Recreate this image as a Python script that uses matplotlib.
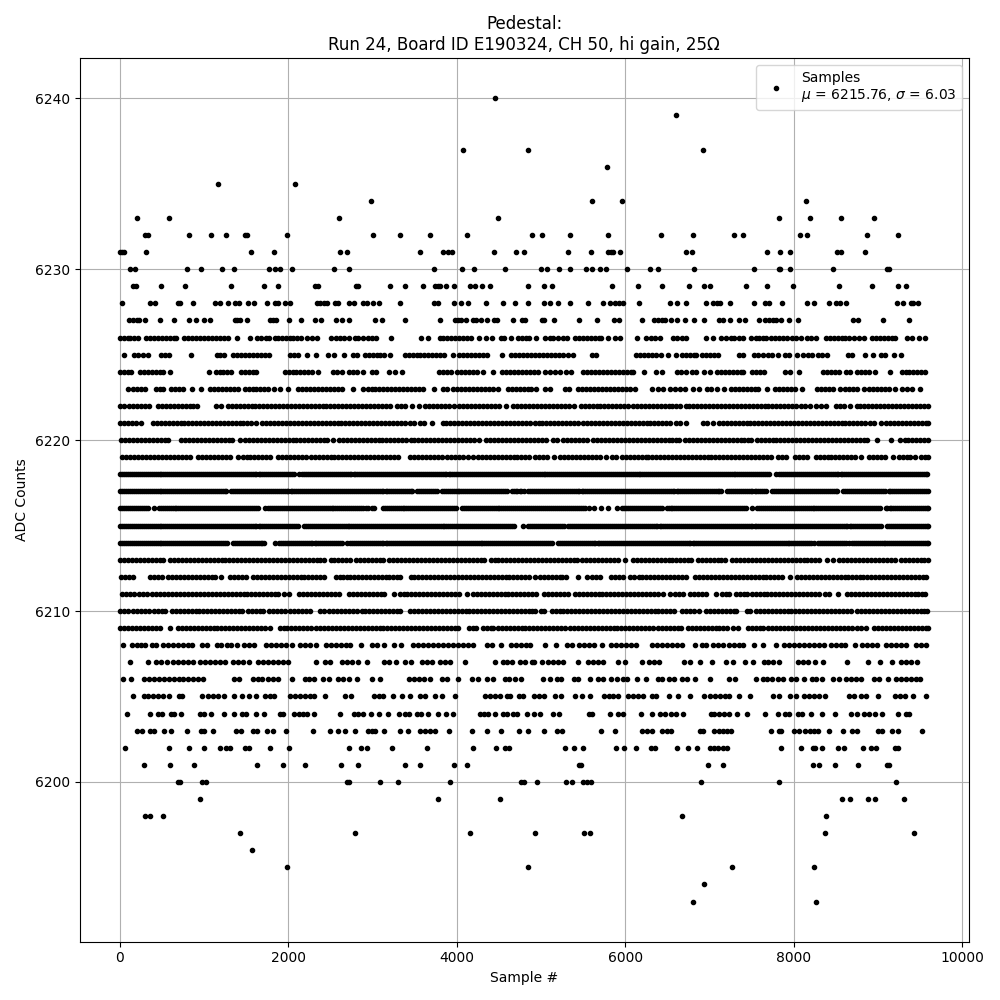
import matplotlib
matplotlib.use("Agg")
import matplotlib.pyplot as plt

# sample numbers, one list per ADC level
s_6240 = [4450]
s_6239 = [6600]
s_6237 = [4070, 4850, 6919]
s_6236 = [5783]
s_6235 = [1163, 2077]
s_6234 = [2979, 5605, 5960, 8150]
s_6233 = [202, 581, 2599, 4486, 7830, 8197, 8564, 8955]
s_6232 = [300, 332, 819, 1080, 1258, 1480, 1511, 1982, 3003, 3323, 3679, 4118, 4895, 5014, 5345, 5795, 6422, 6801, 7286, 7393, 8079, 8162, 8872, 9239]
s_6231 = [0, 20, 47, 305, 1555, 1828, 2611, 2694, 3560, 3833, 3897, 3944, 4439, 4700, 4795, 5321, 5594, 5795, 5826, 5858, 5937, 6718, 6789, 7688, 7842, 7961, 8517, 8556, 8848]
s_6230 = [119, 178, 795, 961, 1210, 1353, 1768, 1840, 1899, 2041, 2540, 2718, 3727, 4063, 4201, 4569, 5002, 5073, 5215, 5345, 5534, 5605, 5700, 5771, 6020, 6292, 6387, 6813, 7523, 7819, 7842, 7961, 8470, 9109, 9132]
s_6229 = [154, 190, 487, 771, 1317, 1709, 1875, 2314, 2350, 2801, 2829, 3204, 3382, 3596, 3738, 3774, 3798, 3869, 3964, 4154, 4213, 4296, 4391, 4842, 5037, 5132, 5842, 6150, 6434, 6753, 6931, 7002, 7428, 7677, 7996, 8541, 8931, 9239, 9333]
s_6228 = [24, 356, 415, 688, 712, 866, 1127, 1187, 1282, 1365, 1412, 1519, 1590, 1745, 1840, 1875, 1958, 2018, 2338, 2374, 2421, 2457, 2552, 2587, 2718, 2777, 2884, 2931, 3003, 3074, 3323, 3727, 3774, 3964, 4047, 4130, 4344, 4546, 4688, 4842, 5037, 5105, 5204, 5345, 5558, 5736, 5819, 5878, 5925, 5972, 6162, 6529, 6611, 6718, 6955, 7037, 7085, 7120, 7239, 7523, 7653, 7708, 7866, 8162, 8245, 8422, 8505, 8552, 8623, 9227, 9298, 9393, 9416, 9475]
s_6227 = [107, 154, 202, 225, 297, 475, 641, 819, 902, 997, 1068, 1365, 1389, 1424, 1507, 1780, 1816, 1851, 2006, 2148, 2314, 2385, 2563, 2635, 2718, 3026, 3109, 3382, 3798, 3976, 4011, 4047, 4106, 4189, 4225, 4284, 4355, 4439, 4474, 4664, 4771, 4807, 5014, 5037, 5156, 5452, 5665, 5866, 5925, 6197, 6339, 6387, 6434, 6469, 6540, 6611, 6706, 6813, 6931, 7108, 7156, 7239, 7345, 7416, 7582, 7653, 7712, 7759, 7795, 7854, 7949, 8055, 8706, 8765, 9061, 9369]
s_6226 = [0, 45, 95, 123, 170, 214, 305, 352, 400, 447, 494, 542, 589, 636, 669, 756, 803, 850, 906, 953, 1000, 1047, 1095, 1142, 1189, 1236, 1282, 1389, 1543, 1626, 1673, 1737, 1768, 1836, 1875, 1922, 1969, 2016, 2053, 2101, 2152, 2219, 2278, 2338, 2508, 2560, 2607, 2666, 2725, 2785, 2825, 2884, 2943, 2990, 3042, 3216, 3572, 3655, 3794, 3841, 3888, 3935, 3982, 4029, 4076, 4123, 4170, 4268, 4348, 4415, 4526, 4565, 4644, 4723, 4770, 4817, 4862, 4939, 5045, 5105, 5144, 5203, 5262, 5302, 5400, 5447, 5494, 5541, 5588, 5635, 5682, 5716, 5795, 5874, 5933, 6138, 6249, 6300, 6355, 6406, 6564, 6618, 6670, 6722, 6959, 7037, 7136, 7195, 7254, 7294, 7345, 7393, 7491, 7550, 7590, 7630, 7669, 7728, 7775, 7822, 7869, 7916, 7984, 8024, 8083, 8162, 8210, 8260, 8379, 8426, 8473, 8520, 8567, 8614, 8661, 8714, 8773, 8832, 8931, 8978, 9025, 9072, 9119, 9166, 9207, 9345, 9400, 9483, 9562]
s_6225 = [47, 162, 210, 273, 332, 490, 540, 585, 843, 1150, 1187, 1234, 1345, 1392, 1439, 1486, 1533, 1580, 1627, 1674, 1721, 1775, 2015, 2062, 2109, 2219, 2330, 2470, 2547, 2660, 2768, 2820, 2905, 2952, 2999, 3046, 3093, 3140, 3210, 3380, 3427, 3474, 3521, 3568, 3615, 3662, 3709, 3756, 3803, 3850, 3950, 4030, 4077, 4124, 4171, 4218, 4265, 4312, 4359, 4540, 4645, 4692, 4739, 4786, 4833, 4880, 4927, 4974, 5021, 5068, 5115, 5162, 5209, 5255, 5320, 5375, 5600, 5655, 6130, 6177, 6224, 6271, 6318, 6365, 6419, 6510, 6605, 6670, 6717, 6764, 6811, 6840, 6911, 6958, 7005, 7052, 7100, 7350, 7397, 7525, 7570, 7630, 7690, 7745, 7809, 7895, 7945, 8040, 8110, 8166, 8215, 8285, 8340, 8395, 8640, 8690, 8840, 8935, 9030, 9083, 9185, 9270]
s_6224 = [0, 47, 94, 130, 235, 282, 329, 376, 423, 470, 510, 600, 1053, 1135, 1182, 1229, 1276, 1322, 1440, 1487, 1534, 1581, 1620, 1955, 2002, 2049, 2096, 2143, 2190, 2237, 2284, 2350, 2525, 2572, 2640, 2720, 2767, 2814, 2885, 2995, 3042, 3190, 3265, 3350, 3790, 3837, 3884, 3930, 4000, 4047, 4094, 4141, 4188, 4235, 4310, 4430, 4536, 4583, 4630, 4677, 4724, 4771, 4818, 4865, 4912, 4959, 5045, 5105, 5170, 5230, 5300, 5350, 5500, 5547, 5594, 5641, 5688, 5735, 5782, 5829, 5876, 5923, 5970, 6017, 6064, 6090, 6226, 6360, 6440, 6610, 6660, 6725, 6790, 6840, 6940, 7000, 7090, 7137, 7184, 7231, 7278, 7325, 7372, 7400, 7500, 7547, 7600, 7650, 7900, 7950, 8060, 8350, 8397, 8444, 8491, 8538, 8620, 8665, 8753, 8800, 8847, 8894, 8970, 9140, 9280, 9327, 9374, 9421, 9468, 9515, 9562]
s_6223 = [100, 150, 197, 244, 300, 430, 480, 515, 605, 652, 699, 746, 850, 966, 1070, 1117, 1164, 1211, 1258, 1305, 1352, 1399, 1480, 1527, 1574, 1621, 1668, 1715, 1762, 1830, 1900, 1990, 2114, 2161, 2208, 2255, 2302, 2349, 2396, 2443, 2490, 2537, 2584, 2635, 2772, 2880, 2940, 2987, 3034, 3081, 3128, 3175, 3222, 3269, 3316, 3363, 3410, 3457, 3504, 3551, 3600, 3725, 3835, 3880, 3955, 4002, 4049, 4096, 4143, 4190, 4237, 4284, 4331, 4378, 4425, 4490, 4605, 4652, 4699, 4746, 4793, 4840, 4885, 4940, 5045, 5100, 5285, 5330, 5440, 5487, 5534, 5581, 5628, 5675, 5722, 5769, 5816, 5863, 5910, 5957, 6004, 6051, 6120, 6316, 6390, 6445, 6530, 6590, 6650, 6710, 6800, 6870, 6970, 7020, 7090, 7170, 7255, 7300, 7347, 7394, 7441, 7488, 7535, 7580, 7680, 7780, 7827, 7874, 7921, 7968, 8015, 8100, 8280, 8327, 8374, 8421, 8468, 8550, 8610, 8657, 8704, 8751, 8830, 8890, 8935, 8990, 9040, 9085, 9130, 9205, 9290, 9340, 9400, 9500]
s_6222 = [0, 45, 110, 157, 204, 251, 298, 345, 450, 497, 544, 591, 638, 685, 732, 779, 826, 873, 920, 1145, 1202, 1280, 1327, 1374, 1421, 1468, 1515, 1562, 1609, 1656, 1703, 1750, 1797, 1844, 1891, 1938, 1985, 2032, 2079, 2126, 2170, 2217, 2264, 2311, 2358, 2405, 2452, 2499, 2546, 2593, 2640, 2687, 2734, 2781, 2828, 2875, 2922, 2969, 3016, 3063, 3110, 3157, 3204, 3290, 3337, 3384, 3465, 3555, 3620, 3675, 3722, 3769, 3816, 3863, 3910, 3970, 4030, 4077, 4124, 4171, 4218, 4265, 4312, 4359, 4406, 4453, 4500, 4585, 4670, 4717, 4764, 4811, 4858, 4905, 4952, 4999, 5046, 5093, 5140, 5187, 5234, 5281, 5328, 5385, 5470, 5517, 5564, 5611, 5658, 5705, 5752, 5799, 5846, 5893, 5940, 5987, 6034, 6090, 6137, 6184, 6231, 6278, 6325, 6372, 6419, 6466, 6513, 6560, 6607, 6654, 6715, 6760, 6807, 6854, 6901, 6948, 6995, 7042, 7089, 7136, 7183, 7230, 7277, 7324, 7371, 7418, 7465, 7512, 7559, 7606, 7653, 7700, 7747, 7794, 7841, 7888, 7935, 7982, 8025, 8090, 8137, 8190, 8260, 8320, 8380, 8505, 8552, 8600, 8670, 8745, 8790, 8837, 8884, 8931, 8978, 9025, 9072, 9119, 9166, 9213, 9260, 9307, 9354, 9401, 9448, 9495, 9542, 9590]
s_6221 = [0, 47, 94, 145, 190, 250, 390, 437, 484, 531, 578, 625, 672, 719, 766, 813, 860, 907, 954, 1001, 1048, 1095, 1142, 1189, 1236, 1283, 1330, 1377, 1424, 1460, 1510, 1560, 1620, 1690, 1737, 1784, 1831, 1878, 1925, 1972, 2019, 2066, 2113, 2160, 2207, 2254, 2301, 2348, 2395, 2442, 2489, 2536, 2583, 2630, 2677, 2724, 2771, 2818, 2865, 2912, 2959, 3006, 3053, 3100, 3147, 3194, 3241, 3288, 3335, 3382, 3445, 3490, 3565, 3615, 3705, 3830, 3877, 3924, 3971, 4018, 4065, 4112, 4159, 4206, 4253, 4300, 4347, 4394, 4441, 4488, 4535, 4582, 4629, 4676, 4723, 4770, 4817, 4864, 4928, 4975, 5015, 5062, 5109, 5156, 5203, 5250, 5297, 5344, 5391, 5438, 5500, 5547, 5594, 5641, 5688, 5735, 5782, 5829, 5876, 5923, 5970, 6017, 6064, 6111, 6158, 6205, 6252, 6299, 6346, 6393, 6440, 6487, 6534, 6600, 6647, 6720, 6925, 6972, 7040, 7110, 7157, 7204, 7251, 7298, 7345, 7392, 7439, 7486, 7533, 7580, 7627, 7674, 7721, 7768, 7815, 7862, 7909, 7956, 8003, 8050, 8097, 8144, 8191, 8238, 8285, 8332, 8379, 8426, 8473, 8520, 8567, 8614, 8661, 8708, 8755, 8802, 8849, 8900, 8955, 9040, 9095, 9142, 9189, 9236, 9283, 9330, 9377, 9424, 9471, 9518, 9565, 9590]
s_6220 = [15, 62, 109, 156, 203, 250, 297, 344, 391, 438, 485, 530, 570, 725, 772, 819, 866, 913, 960, 1007, 1054, 1101, 1148, 1195, 1242, 1289, 1336, 1420, 1485, 1532, 1579, 1626, 1673, 1720, 1767, 1814, 1861, 1908, 1955, 2002, 2049, 2096, 2143, 2190, 2237, 2284, 2331, 2378, 2425, 2460, 2533, 2600, 2647, 2694, 2741, 2788, 2835, 2882, 2929, 2976, 3023, 3070, 3117, 3164, 3211, 3258, 3305, 3352, 3399, 3450, 3497, 3544, 3591, 3638, 3685, 3732, 3779, 3826, 3873, 3920, 3967, 4014, 4061, 4108, 4155, 4202, 4260, 4350, 4397, 4444, 4491, 4538, 4585, 4632, 4679, 4728, 4775, 4822, 4869, 4916, 4963, 5010, 5057, 5145, 5190, 5260, 5307, 5354, 5401, 5448, 5495, 5542, 5620, 5667, 5714, 5761, 5808, 5855, 5902, 5949, 5996, 6043, 6090, 6137, 6184, 6231, 6278, 6325, 6372, 6419, 6466, 6513, 6560, 6607, 6640, 6710, 6757, 6804, 6851, 6898, 6945, 6992, 7039, 7086, 7133, 7180, 7227, 7274, 7321, 7368, 7415, 7462, 7490, 7560, 7607, 7654, 7701, 7748, 7795, 7842, 7889, 7936, 7983, 8030, 8077, 8124, 8171, 8218, 8265, 8312, 8359, 8406, 8453, 8500, 8547, 8594, 8641, 8688, 8735, 8782, 8829, 8875, 8990, 9155, 9265, 9315, 9362, 9409, 9456, 9503, 9550, 9590]
s_6219 = [30, 77, 124, 171, 218, 265, 312, 359, 406, 453, 500, 547, 594, 641, 688, 735, 782, 829, 930, 977, 1024, 1071, 1118, 1165, 1212, 1259, 1306, 1400, 1460, 1510, 1540, 1590, 1637, 1684, 1731, 1780, 1875, 1922, 1969, 2016, 2063, 2110, 2157, 2210, 2265, 2312, 2359, 2406, 2453, 2500, 2547, 2594, 2641, 2688, 2735, 2782, 2829, 2876, 2923, 2970, 3017, 3064, 3111, 3158, 3205, 3252, 3300, 3445, 3492, 3539, 3586, 3633, 3680, 3727, 3774, 3821, 3880, 3927, 3974, 4021, 4068, 4130, 4190, 4250, 4297, 4344, 4391, 4438, 4485, 4532, 4579, 4626, 4673, 4720, 4767, 4814, 4861, 4930, 4977, 5024, 5071, 5150, 5225, 5272, 5319, 5366, 5413, 5460, 5507, 5554, 5601, 5648, 5695, 5775, 5840, 5893, 5962, 6009, 6056, 6103, 6150, 6197, 6244, 6270, 6320, 6365, 6412, 6459, 6506, 6553, 6600, 6647, 6694, 6741, 6788, 6835, 6882, 6929, 6976, 7023, 7070, 7117, 7164, 7211, 7258, 7305, 7352, 7399, 7446, 7493, 7540, 7587, 7634, 7681, 7725, 7810, 7857, 7904, 8015, 8062, 8109, 8160, 8260, 8307, 8354, 8401, 8448, 8495, 8542, 8589, 8636, 8683, 8730, 8800, 8890, 8937, 8984, 9040, 9085, 9175, 9245, 9292, 9339, 9386, 9440, 9510, 9557, 9595]
s_6218 = [0, 47, 94, 141, 188, 235, 282, 329, 376, 423, 470, 517, 564, 611, 658, 705, 752, 799, 846, 893, 940, 987, 1034, 1081, 1128, 1175, 1222, 1269, 1316, 1363, 1410, 1457, 1504, 1551, 1598, 1645, 1692, 1739, 1786, 1833, 1880, 1927, 1974, 2021, 2068, 2125, 2162, 2209, 2256, 2303, 2350, 2397, 2444, 2491, 2538, 2585, 2632, 2679, 2726, 2773, 2820, 2867, 2914, 2961, 3008, 3055, 3102, 3149, 3196, 3243, 3290, 3337, 3384, 3431, 3478, 3525, 3572, 3619, 3666, 3713, 3760, 3807, 3854, 3901, 3948, 3995, 4042, 4089, 4136, 4183, 4230, 4277, 4324, 4371, 4418, 4465, 4512, 4559, 4606, 4653, 4700, 4747, 4794, 4841, 4888, 4935, 4982, 5029, 5076, 5123, 5170, 5217, 5264, 5311, 5358, 5405, 5452, 5499, 5546, 5593, 5640, 5687, 5734, 5781, 5828, 5875, 5922, 5969, 6016, 6063, 6110, 6157, 6204, 6251, 6298, 6345, 6392, 6439, 6486, 6533, 6580, 6627, 6674, 6721, 6768, 6815, 6862, 6909, 6956, 7003, 7050, 7097, 7144, 7191, 7238, 7285, 7332, 7379, 7426, 7473, 7520, 7567, 7614, 7661, 7708, 7795, 7850, 7897, 7944, 7991, 8038, 8085, 8132, 8179, 8226, 8273, 8320, 8367, 8414, 8461, 8508, 8555, 8602, 8649, 8696, 8743, 8790, 8837, 8884, 8931, 8978, 9025, 9072, 9119, 9166, 9213, 9260, 9307, 9354, 9401, 9448, 9495, 9542, 9585]
s_6218 += [23, 70, 117, 164, 211, 258, 305, 352, 399, 446, 493, 540, 587, 634, 681, 728, 775, 822, 869, 916, 963, 1010, 1057, 1104, 1151, 1198, 1245, 1292, 1339, 1386, 1433, 1480, 1527, 1574, 1621, 1668, 1715, 1762, 1809, 1856, 1903, 1950, 1997, 2044, 2185, 2232, 2279, 2326, 2373, 2420, 2467, 2514, 2561, 2608, 2655, 2702, 2749, 2796, 2843, 2890, 2937, 2984, 3031, 3078, 3125, 3172, 3219, 3266, 3313, 3360, 3407, 3454, 3501, 3548, 3595, 3642, 3689, 3736, 3783, 3830, 3877, 3924, 3971, 4018, 4065, 4112, 4159, 4206, 4253, 4300, 4347, 4394, 4441, 4488, 4535, 4582, 4629, 4676, 4723, 4770, 4817, 4864, 4911, 4958, 5005, 5052, 5099, 5146, 5193, 5240, 5287, 5334, 5381, 5428, 5475, 5522, 5569, 5616, 5663, 5710, 5757, 5804, 5851, 5898, 5945, 5992, 6039, 6086, 6133, 6180, 6227, 6274, 6321, 6368, 6415, 6462, 6509, 6556, 6603, 6650, 6697, 6744, 6791, 6838, 6885, 6932, 6979, 7026, 7073, 7120, 7167, 7214, 7261, 7308, 7355, 7402, 7449, 7496, 7543, 7590, 7637, 7684, 7820, 7873, 7920, 7967, 8014, 8061, 8108, 8155, 8202, 8249, 8296, 8343, 8390, 8437, 8484, 8531, 8578, 8625, 8672, 8719, 8766, 8813, 8860, 8907, 8954, 9001, 9048, 9095, 9142, 9189, 9236, 9283, 9330, 9377, 9424, 9471, 9518, 9565]
s_6217 = [0, 47, 94, 141, 188, 235, 282, 329, 376, 423, 470, 517, 564, 611, 658, 705, 752, 799, 846, 893, 940, 987, 1034, 1081, 1128, 1175, 1222, 1265, 1320, 1367, 1414, 1461, 1508, 1555, 1602, 1649, 1696, 1743, 1790, 1837, 1884, 1931, 1978, 2025, 2072, 2119, 2166, 2213, 2260, 2307, 2354, 2401, 2448, 2495, 2542, 2589, 2636, 2683, 2730, 2777, 2824, 2871, 2918, 2965, 3012, 3059, 3106, 3153, 3200, 3247, 3294, 3341, 3388, 3435, 3470, 3525, 3572, 3619, 3666, 3713, 3760, 3820, 3867, 3914, 3961, 4008, 4055, 4102, 4149, 4196, 4243, 4290, 4337, 4384, 4431, 4478, 4525, 4572, 4600, 4650, 4697, 4744, 4795, 4845, 4892, 4939, 4986, 5033, 5080, 5127, 5174, 5221, 5268, 5315, 5362, 5409, 5456, 5503, 5550, 5597, 5644, 5691, 5738, 5785, 5832, 5879, 5926, 5973, 6020, 6067, 6114, 6161, 6208, 6255, 6302, 6349, 6396, 6443, 6490, 6537, 6584, 6631, 6678, 6725, 6772, 6819, 6866, 6913, 6960, 7007, 7054, 7101, 7135, 7205, 7252, 7299, 7346, 7393, 7440, 7487, 7534, 7581, 7628, 7670, 7745, 7792, 7839, 7886, 7933, 7980, 8027, 8074, 8121, 8168, 8215, 8262, 8309, 8356, 8403, 8450, 8497, 8510, 8585, 8632, 8679, 8726, 8773, 8820, 8867, 8914, 8961, 9008, 9055, 9085, 9125, 9170, 9217, 9264, 9311, 9358, 9405, 9452, 9499, 9546, 9590]
s_6217 += [23, 70, 117, 164, 211, 258, 305, 352, 399, 446, 493, 540, 587, 634, 681, 728, 775, 822, 869, 916, 963, 1010, 1057, 1104, 1151, 1198, 1245, 1343, 1390, 1437, 1484, 1531, 1578, 1625, 1672, 1719, 1766, 1813, 1860, 1907, 1954, 2001, 2048, 2095, 2142, 2189, 2236, 2283, 2330, 2377, 2424, 2471, 2518, 2565, 2612, 2659, 2706, 2753, 2800, 2847, 2894, 2941, 2988, 3035, 3082, 3129, 3176, 3223, 3270, 3317, 3364, 3411, 3450, 3548, 3595, 3642, 3689, 3736, 3843, 3890, 3937, 3984, 4031, 4078, 4125, 4172, 4219, 4266, 4313, 4360, 4407, 4454, 4501, 4548, 4673, 4720, 4767, 4869, 4916, 4963, 5010, 5057, 5104, 5151, 5198, 5245, 5292, 5339, 5386, 5433, 5480, 5527, 5574, 5621, 5668, 5715, 5762, 5809, 5856, 5903, 5950, 5997, 6044, 6091, 6138, 6185, 6232, 6279, 6326, 6373, 6420, 6467, 6514, 6561, 6608, 6655, 6702, 6749, 6796, 6843, 6890, 6937, 6984, 7031, 7078, 7118, 7228, 7275, 7322, 7369, 7416, 7463, 7510, 7557, 7604, 7650, 7768, 7815, 7862, 7909, 7956, 8003, 8050, 8097, 8144, 8191, 8238, 8285, 8332, 8379, 8426, 8473, 8608, 8655, 8702, 8749, 8796, 8843, 8890, 8937, 8984, 9031, 9148, 9193, 9240, 9287, 9334, 9381, 9428, 9475, 9522, 9569]
s_6216 = [0, 47, 94, 141, 188, 235, 282, 329, 400, 460, 507, 554, 601, 648, 695, 742, 789, 836, 883, 930, 977, 1024, 1071, 1118, 1165, 1212, 1259, 1306, 1353, 1400, 1447, 1494, 1541, 1588, 1635, 1720, 1760, 1807, 1854, 1901, 1948, 1995, 2042, 2089, 2136, 2183, 2230, 2277, 2324, 2371, 2418, 2465, 2512, 2559, 2606, 2653, 2700, 2747, 2794, 2841, 2888, 2947, 2994, 3020, 3120, 3167, 3214, 3261, 3308, 3355, 3402, 3449, 3496, 3543, 3590, 3637, 3684, 3731, 3778, 3825, 3872, 3919, 3966, 3990, 4060, 4107, 4154, 4201, 4248, 4295, 4342, 4389, 4436, 4483, 4530, 4577, 4624, 4671, 4718, 4765, 4812, 4859, 4906, 4953, 5000, 5047, 5094, 5141, 5188, 5235, 5282, 5329, 5376, 5423, 5470, 5517, 5570, 5630, 5710, 5800, 5900, 5960, 6007, 6054, 6101, 6148, 6195, 6242, 6289, 6336, 6383, 6430, 6490, 6537, 6584, 6631, 6678, 6725, 6772, 6819, 6866, 6913, 6960, 7007, 7054, 7101, 7148, 7195, 7242, 7289, 7336, 7383, 7430, 7500, 7565, 7612, 7659, 7706, 7753, 7800, 7847, 7894, 7941, 7988, 8035, 8082, 8129, 8176, 8223, 8270, 8317, 8364, 8411, 8458, 8505, 8552, 8599, 8646, 8693, 8740, 8787, 8834, 8881, 8928, 8975, 9022, 9090, 9137, 9184, 9231, 9278, 9325, 9372, 9419, 9466, 9513, 9560, 9595]
s_6216 += [23, 70, 117, 164, 211, 258, 305, 483, 530, 577, 624, 671, 718, 765, 812, 859, 906, 953, 1000, 1047, 1094, 1141, 1188, 1235, 1282, 1329, 1376, 1423, 1470, 1517, 1564, 1611, 1783, 1830, 1877, 1924, 1971, 2018, 2065, 2112, 2159, 2206, 2253, 2300, 2347, 2394, 2441, 2488, 2535, 2582, 2629, 2676, 2723, 2770, 2817, 2864, 2920, 3143, 3190, 3237, 3284, 3331, 3378, 3425, 3472, 3519, 3566, 3613, 3660, 3707, 3754, 3801, 3848, 3895, 3942, 4083, 4130, 4177, 4224, 4271, 4318, 4365, 4412, 4459, 4506, 4553, 4600, 4647, 4694, 4741, 4788, 4835, 4882, 4929, 4976, 5023, 5070, 5117, 5164, 5211, 5258, 5305, 5352, 5399, 5446, 5493, 5983, 6030, 6077, 6124, 6171, 6218, 6265, 6312, 6359, 6406, 6513, 6560, 6607, 6654, 6701, 6748, 6795, 6842, 6889, 6936, 6983, 7030, 7077, 7124, 7171, 7218, 7265, 7312, 7359, 7406, 7588, 7635, 7682, 7729, 7776, 7823, 7870, 7917, 7964, 8011, 8058, 8105, 8152, 8199, 8246, 8293, 8340, 8387, 8434, 8481, 8528, 8575, 8622, 8669, 8716, 8763, 8810, 8857, 8904, 8951, 8998, 9113, 9160, 9207, 9254, 9301, 9348, 9395, 9442, 9489, 9536, 9580]
s_6215 = [0, 47, 94, 141, 188, 235, 282, 329, 376, 423, 470, 517, 564, 611, 658, 705, 752, 799, 846, 893, 940, 987, 1034, 1081, 1128, 1175, 1222, 1269, 1316, 1363, 1410, 1457, 1504, 1551, 1598, 1645, 1692, 1739, 1786, 1833, 1880, 1927, 1974, 2021, 2068, 2115, 2185, 2232, 2279, 2326, 2373, 2420, 2467, 2514, 2561, 2608, 2655, 2702, 2749, 2796, 2843, 2890, 2937, 2984, 3031, 3078, 3125, 3172, 3219, 3266, 3313, 3360, 3407, 3454, 3501, 3548, 3595, 3642, 3689, 3736, 3783, 3830, 3877, 3924, 3971, 4018, 4065, 4112, 4159, 4206, 4253, 4300, 4347, 4394, 4441, 4488, 4535, 4582, 4629, 4676, 4780, 4845, 4892, 4939, 4986, 5033, 5080, 5127, 5174, 5221, 5268, 5325, 5372, 5419, 5466, 5513, 5560, 5607, 5654, 5701, 5748, 5795, 5842, 5889, 5936, 5983, 6030, 6077, 6124, 6171, 6218, 6265, 6312, 6359, 6406, 6453, 6500, 6547, 6594, 6641, 6688, 6735, 6782, 6829, 6876, 6923, 6970, 7017, 7064, 7111, 7158, 7205, 7252, 7299, 7346, 7393, 7440, 7487, 7534, 7581, 7628, 7675, 7722, 7769, 7816, 7863, 7910, 7957, 8004, 8051, 8098, 8145, 8192, 8239, 8286, 8333, 8380, 8427, 8474, 8521, 8568, 8615, 8662, 8709, 8756, 8803, 8850, 8897, 8944, 8991, 9038, 9110, 9157, 9204, 9251, 9298, 9345, 9392, 9439, 9486, 9533, 9580, 9599]
s_6215 += [23, 70, 117, 164, 211, 258, 305, 352, 399, 446, 493, 540, 587, 634, 681, 728, 775, 822, 869, 916, 963, 1010, 1057, 1104, 1151, 1198, 1245, 1292, 1339, 1386, 1433, 1480, 1527, 1574, 1621, 1668, 1715, 1762, 1809, 1856, 1903, 1950, 1997, 2044, 2091, 2208, 2255, 2302, 2349, 2396, 2443, 2490, 2537, 2584, 2631, 2678, 2725, 2772, 2819, 2866, 2913, 2960, 3007, 3054, 3101, 3148, 3195, 3242, 3289, 3336, 3383, 3430, 3477, 3524, 3571, 3618, 3665, 3712, 3759, 3806, 3853, 3900, 3947, 3994, 4041, 4088, 4135, 4182, 4229, 4276, 4323, 4370, 4417, 4464, 4511, 4558, 4605, 4652, 4868, 4915, 4962, 5009, 5056, 5103, 5150, 5197, 5244, 5348, 5395, 5442, 5489, 5536, 5583, 5630, 5677, 5724, 5771, 5818, 5865, 5912, 5959, 6006, 6053, 6100, 6147, 6194, 6241, 6288, 6335, 6382, 6429, 6476, 6523, 6570, 6617, 6664, 6711, 6758, 6805, 6852, 6899, 6946, 6993, 7040, 7087, 7134, 7181, 7228, 7275, 7322, 7369, 7416, 7463, 7510, 7557, 7604, 7651, 7698, 7745, 7792, 7839, 7886, 7933, 7980, 8027, 8074, 8121, 8168, 8215, 8262, 8309, 8356, 8403, 8450, 8497, 8544, 8591, 8638, 8685, 8732, 8779, 8826, 8873, 8920, 8967, 9014, 9133, 9180, 9227, 9274, 9321, 9368, 9415, 9462, 9509, 9556]
s_6214 = [0, 47, 94, 141, 188, 235, 282, 329, 376, 423, 470, 517, 564, 611, 658, 705, 752, 799, 846, 893, 940, 987, 1034, 1081, 1128, 1175, 1222, 1269, 1340, 1387, 1434, 1481, 1528, 1575, 1622, 1669, 1716, 1835, 1887, 1934, 1981, 2028, 2075, 2122, 2169, 2216, 2263, 2310, 2357, 2404, 2451, 2498, 2545, 2592, 2640, 2690, 2730, 2777, 2824, 2871, 2918, 2965, 3012, 3059, 3106, 3153, 3200, 3247, 3294, 3341, 3388, 3435, 3482, 3529, 3576, 3623, 3670, 3717, 3764, 3811, 3858, 3905, 3952, 3999, 4046, 4093, 4140, 4187, 4234, 4281, 4328, 4375, 4422, 4469, 4516, 4563, 4610, 4657, 4704, 4751, 4798, 4845, 4892, 4939, 4986, 5033, 5080, 5127, 5200, 5247, 5294, 5341, 5388, 5435, 5482, 5529, 5576, 5623, 5670, 5717, 5764, 5811, 5858, 5905, 5952, 5999, 6046, 6093, 6140, 6187, 6234, 6281, 6328, 6375, 6422, 6469, 6516, 6563, 6610, 6657, 6704, 6751, 6798, 6845, 6892, 6939, 6986, 7033, 7080, 7127, 7174, 7221, 7268, 7315, 7362, 7409, 7456, 7503, 7550, 7597, 7644, 7691, 7738, 7785, 7832, 7879, 7926, 7973, 8020, 8067, 8114, 8161, 8208, 8240, 8290, 8337, 8384, 8431, 8478, 8525, 8572, 8619, 8650, 8690, 8737, 8784, 8831, 8878, 8925, 8972, 9019, 9066, 9113, 9160, 9207, 9254, 9301, 9348, 9395, 9442, 9489, 9536, 9583, 9595]
s_6214 += [23, 70, 117, 164, 211, 258, 305, 352, 399, 446, 493, 540, 587, 634, 681, 728, 775, 822, 869, 916, 963, 1010, 1057, 1104, 1151, 1198, 1245, 1363, 1410, 1457, 1504, 1551, 1598, 1645, 1692, 1910, 1957, 2004, 2051, 2098, 2145, 2192, 2239, 2286, 2333, 2380, 2427, 2474, 2521, 2568, 2615, 2753, 2800, 2847, 2894, 2941, 2988, 3035, 3082, 3129, 3176, 3223, 3270, 3317, 3364, 3411, 3458, 3505, 3552, 3599, 3646, 3693, 3740, 3787, 3834, 3881, 3928, 3975, 4022, 4069, 4116, 4163, 4210, 4257, 4304, 4351, 4398, 4445, 4492, 4539, 4586, 4633, 4680, 4727, 4774, 4821, 4868, 4915, 4962, 5009, 5056, 5103, 5223, 5270, 5317, 5364, 5411, 5458, 5505, 5552, 5599, 5646, 5693, 5740, 5787, 5834, 5881, 5928, 5975, 6022, 6069, 6116, 6163, 6210, 6257, 6304, 6351, 6398, 6445, 6492, 6539, 6586, 6633, 6680, 6727, 6774, 6821, 6868, 6915, 6962, 7009, 7056, 7103, 7150, 7197, 7244, 7291, 7338, 7385, 7432, 7479, 7526, 7573, 7620, 7667, 7714, 7761, 7808, 7855, 7902, 7949, 7996, 8043, 8090, 8137, 8184, 8313, 8360, 8407, 8454, 8501, 8548, 8595, 8713, 8760, 8807, 8854, 8901, 8948, 8995, 9042, 9089, 9136, 9183, 9230, 9277, 9324, 9371, 9418, 9465, 9512, 9559]
s_6213 = [0, 47, 94, 141, 188, 235, 282, 329, 376, 423, 470, 515, 595, 642, 689, 736, 783, 830, 877, 924, 971, 1018, 1065, 1112, 1159, 1206, 1253, 1300, 1347, 1394, 1441, 1488, 1535, 1582, 1629, 1676, 1723, 1770, 1817, 1864, 1911, 1958, 2005, 2052, 2099, 2146, 2193, 2240, 2287, 2334, 2381, 2428, 2500, 2547, 2594, 2641, 2688, 2735, 2800, 2847, 2894, 2941, 2988, 3035, 3082, 3129, 3200, 3247, 3294, 3341, 3388, 3435, 3482, 3529, 3576, 3623, 3670, 3717, 3764, 3811, 3858, 3905, 3952, 3999, 4046, 4093, 4140, 4187, 4234, 4281, 4328, 4400, 4447, 4494, 4541, 4588, 4635, 4682, 4729, 4776, 4823, 4868, 4915, 4962, 5009, 5056, 5103, 5150, 5197, 5244, 5291, 5338, 5385, 5432, 5490, 5537, 5584, 5631, 5678, 5725, 5772, 5819, 5866, 5913, 5995, 6090, 6137, 6184, 6231, 6278, 6325, 6372, 6419, 6466, 6513, 6560, 6607, 6654, 6701, 6748, 6785, 6860, 6907, 6954, 7001, 7048, 7095, 7142, 7189, 7270, 7317, 7364, 7411, 7458, 7505, 7552, 7599, 7646, 7693, 7740, 7787, 7834, 7881, 7928, 7975, 8022, 8069, 8116, 8163, 8210, 8257, 8304, 8400, 8460, 8540, 8587, 8634, 8681, 8728, 8775, 8822, 8869, 8916, 8963, 9010, 9057, 9104, 9151, 9198, 9270, 9317, 9364, 9411, 9458, 9505, 9552, 9595]
s_6212 = [15, 62, 109, 150, 360, 407, 454, 500, 570, 617, 664, 711, 758, 805, 852, 899, 946, 993, 1040, 1087, 1134, 1200, 1310, 1357, 1404, 1451, 1498, 1580, 1627, 1674, 1721, 1768, 1815, 1862, 1909, 1956, 2003, 2050, 2097, 2144, 2191, 2238, 2285, 2332, 2379, 2420, 2560, 2607, 2650, 2690, 2737, 2784, 2831, 2878, 2925, 2972, 3019, 3066, 3113, 3160, 3200, 3247, 3294, 3330, 3450, 3497, 3544, 3591, 3638, 3685, 3732, 3779, 3826, 3873, 3920, 3967, 4014, 4061, 4108, 4155, 4202, 4249, 4296, 4343, 4390, 4437, 4484, 4531, 4578, 4625, 4672, 4719, 4766, 4813, 4860, 4930, 4985, 5032, 5079, 5126, 5173, 5220, 5250, 5300, 5440, 5540, 5600, 5647, 5700, 5830, 5877, 5924, 5971, 6050, 6100, 6165, 6200, 6247, 6294, 6341, 6388, 6435, 6482, 6529, 6576, 6623, 6670, 6717, 6830, 6877, 6924, 6971, 7018, 7065, 7112, 7159, 7206, 7253, 7300, 7347, 7394, 7441, 7488, 7535, 7582, 7629, 7676, 7723, 7770, 7817, 7864, 7950, 8040, 8087, 8134, 8181, 8228, 8275, 8322, 8369, 8416, 8463, 8510, 8557, 8604, 8640, 8687, 8734, 8781, 8828, 8875, 8922, 8969, 9016, 9063, 9110, 9157, 9204, 9251, 9298, 9345, 9392, 9439, 9486, 9533, 9570]
s_6211 = [28, 75, 122, 170, 225, 272, 319, 380, 427, 470, 527, 574, 621, 668, 715, 762, 809, 856, 903, 950, 997, 1044, 1091, 1138, 1185, 1232, 1279, 1326, 1373, 1420, 1467, 1514, 1561, 1608, 1655, 1702, 1749, 1796, 1843, 1880, 1950, 2005, 2130, 2177, 2224, 2271, 2318, 2365, 2412, 2459, 2506, 2553, 2600, 2725, 2772, 2819, 2866, 2913, 2960, 3007, 3054, 3101, 3140, 3250, 3320, 3367, 3414, 3461, 3508, 3555, 3602, 3649, 3696, 3743, 3790, 3837, 3884, 3931, 3978, 4025, 4120, 4190, 4237, 4284, 4331, 4378, 4425, 4472, 4519, 4566, 4613, 4660, 4707, 4754, 4801, 4848, 4895, 4935, 5040, 5087, 5134, 5180, 5225, 5272, 5320, 5400, 5447, 5494, 5541, 5588, 5635, 5682, 5729, 5776, 5823, 5870, 5917, 5964, 6011, 6058, 6105, 6152, 6199, 6246, 6293, 6340, 6387, 6446, 6525, 6595, 6640, 6690, 6770, 6817, 6864, 6911, 6958, 7075, 7150, 7197, 7235, 7320, 7367, 7414, 7440, 7500, 7547, 7594, 7641, 7688, 7735, 7782, 7829, 7876, 7923, 7970, 8017, 8064, 8111, 8158, 8205, 8252, 8299, 8370, 8420, 8530, 8635, 8682, 8729, 8776, 8823, 8870, 8917, 8964, 9011, 9058, 9105, 9152, 9199, 9246, 9293, 9340, 9387, 9434, 9481, 9528, 9560]
s_6210 = [0, 47, 94, 155, 202, 249, 296, 343, 400, 447, 494, 540, 615, 662, 709, 756, 803, 850, 897, 944, 991, 1038, 1085, 1132, 1179, 1226, 1273, 1320, 1367, 1414, 1450, 1520, 1567, 1614, 1661, 1700, 1775, 1822, 1869, 1916, 1960, 2020, 2067, 2114, 2161, 2208, 2260, 2370, 2417, 2480, 2535, 2582, 2629, 2676, 2723, 2770, 2810, 2868, 2915, 2962, 3009, 3056, 3103, 3150, 3197, 3244, 3291, 3325, 3445, 3492, 3539, 3586, 3633, 3680, 3727, 3774, 3821, 3868, 3915, 3962, 4009, 4056, 4103, 4150, 4197, 4244, 4291, 4338, 4385, 4432, 4479, 4526, 4573, 4620, 4667, 4714, 4761, 4808, 4855, 4895, 4925, 4995, 5040, 5125, 5172, 5219, 5266, 5313, 5360, 5407, 5454, 5501, 5548, 5595, 5642, 5689, 5736, 5783, 5830, 5877, 5924, 5971, 6018, 6065, 6112, 6159, 6206, 6253, 6300, 6347, 6394, 6441, 6488, 6535, 6582, 6670, 6720, 6767, 6814, 6870, 6960, 7007, 7054, 7101, 7148, 7195, 7242, 7289, 7314, 7440, 7485, 7550, 7597, 7644, 7691, 7738, 7785, 7832, 7879, 7926, 7973, 8020, 8067, 8114, 8161, 8208, 8255, 8302, 8349, 8396, 8443, 8490, 8537, 8584, 8631, 8680, 8753, 8800, 8847, 8894, 8941, 8988, 9035, 9082, 9129, 9176, 9223, 9270, 9317, 9364, 9411, 9458, 9505, 9552, 9585]
s_6209 = [0, 47, 94, 141, 188, 235, 282, 329, 376, 423, 470, 593, 688, 735, 782, 829, 876, 923, 970, 1017, 1064, 1111, 1158, 1205, 1242, 1294, 1341, 1388, 1435, 1482, 1529, 1576, 1623, 1670, 1717, 1780, 1895, 1942, 1989, 2036, 2083, 2130, 2177, 2224, 2271, 2330, 2377, 2424, 2471, 2518, 2565, 2612, 2659, 2706, 2753, 2800, 2847, 2894, 2941, 2988, 3035, 3082, 3129, 3176, 3223, 3270, 3317, 3364, 3411, 3458, 3505, 3552, 3599, 3646, 3693, 3740, 3787, 3834, 3881, 3928, 3975, 4011, 4142, 4189, 4229, 4308, 4355, 4402, 4427, 4486, 4533, 4580, 4627, 4674, 4721, 4768, 4815, 4862, 4909, 4956, 5003, 5050, 5097, 5144, 5191, 5238, 5282, 5345, 5392, 5439, 5486, 5533, 5578, 5625, 5672, 5719, 5766, 5813, 5860, 5907, 5954, 6001, 6048, 6095, 6142, 6189, 6236, 6283, 6330, 6387, 6438, 6485, 6532, 6579, 6626, 6663, 6742, 6789, 6836, 6883, 6930, 6977, 7024, 7071, 7118, 7165, 7212, 7274, 7333, 7460, 7507, 7554, 7601, 7629, 7700, 7747, 7794, 7841, 7888, 7935, 7982, 8029, 8076, 8122, 8174, 8221, 8268, 8315, 8362, 8409, 8456, 8503, 8550, 8597, 8644, 8694, 8754, 8801, 8852, 8955, 9002, 9049, 9096, 9143, 9190, 9237, 9284, 9331, 9378, 9425, 9472, 9519, 9566, 9595]
s_6208 = [36, 142, 202, 249, 297, 380, 427, 510, 570, 629, 688, 748, 807, 854, 973, 1032, 1151, 1199, 1270, 1317, 1389, 1472, 1531, 1590, 1733, 1792, 1851, 1911, 1970, 2041, 2136, 2196, 2255, 2326, 2445, 2504, 2563, 2623, 2682, 2726, 2860, 2991, 3050, 3133, 3252, 3335, 3477, 3536, 3596, 3655, 3715, 3774, 3833, 3893, 3952, 4011, 4071, 4130, 4189, 4355, 4415, 4522, 4640, 4700, 4759, 4818, 4868, 5049, 5179, 5310, 5369, 5452, 5511, 5570, 5629, 5724, 5830, 5889, 5949, 6008, 6067, 6126, 6316, 6375, 6434, 6493, 6552, 6611, 6671, 6825, 6907, 6955, 7037, 7097, 7156, 7227, 7286, 7345, 7392, 7523, 7629, 7795, 7890, 7949, 8008, 8067, 8126, 8186, 8245, 8304, 8363, 8446, 8505, 8564, 8611, 8730, 8813, 8872, 8931, 8990, 9097, 9156, 9215, 9274, 9333, 9451, 9511, 9570]
s_6207 = [119, 332, 427, 487, 558, 629, 688, 748, 807, 866, 949, 1009, 1068, 1127, 1187, 1246, 1341, 1400, 1460, 1531, 1638, 1697, 1756, 1816, 1875, 1934, 1994, 2326, 2433, 2492, 2635, 2694, 2753, 2825, 2931, 3133, 3192, 3276, 3382, 3454, 3584, 3643, 3703, 3798, 3857, 3917, 4094, 4450, 4546, 4593, 4652, 4747, 4807, 4895, 4919, 5014, 5085, 5144, 5203, 5262, 5440, 5558, 5617, 5677, 5736, 5913, 5996, 6197, 6280, 6339, 6398, 6694, 6765, 6884, 7026, 7191, 7274, 7416, 7511, 7641, 7700, 7759, 7819, 8055, 8114, 8174, 8257, 8351, 8635, 8884, 9026, 9168, 9274, 9333, 9393, 9463]
s_6206 = [36, 130, 285, 344, 404, 463, 522, 581, 641, 700, 748, 807, 866, 925, 985, 1353, 1412, 1578, 1638, 1685, 1756, 1816, 1875, 2041, 2196, 2243, 2302, 2409, 2480, 2587, 2647, 2718, 2813, 2991, 3086, 3430, 3489, 3548, 3608, 3679, 3822, 3881, 4011, 4177, 4249, 4355, 4427, 4569, 4617, 4688, 4759, 5026, 5108, 5191, 5239, 5392, 5440, 5582, 5677, 5736, 5834, 5901, 5972, 6020, 6138, 6245, 6387, 6434, 6517, 6576, 6671, 6730, 6825, 7002, 7227, 7298, 7546, 7629, 7688, 7747, 7807, 7878, 7972, 8032, 8126, 8221, 8268, 8339, 8470, 8541, 8623, 8682, 8741, 8801, 8955, 9014, 9120, 9215, 9274, 9333, 9393, 9451, 9499]
s_6205 = [154, 285, 332, 392, 451, 510, 581, 700, 736, 973, 1044, 1104, 1163, 1234, 1353, 1448, 1531, 1614, 1721, 1780, 1828, 2018, 2077, 2136, 2196, 2255, 2302, 2433, 2670, 2741, 3015, 3074, 3121, 3240, 3347, 3442, 3560, 3620, 3738, 3822, 3976, 4332, 4391, 4450, 4510, 4593, 4629, 4735, 4783, 4919, 4978, 5037, 5168, 5239, 5404, 5487, 5582, 5748, 5807, 5854, 5913, 6032, 6091, 6150, 6209, 6316, 6363, 6517, 6623, 6765, 6931, 7002, 7061, 7120, 7179, 7227, 7345, 7475, 7759, 7819, 7961, 8032, 8126, 8186, 8245, 8304, 8375, 8659, 8718, 8801, 8860, 9002, 9203, 9262, 9321, 9416, 9570]
s_6204 = [83, 356, 451, 498, 605, 641, 724, 949, 997, 1080, 1234, 1353, 1448, 1495, 1614, 1709, 1899, 1934, 2065, 2124, 2172, 2219, 2301, 2611, 2777, 2825, 2884, 2978, 3074, 3181, 3311, 3382, 3430, 3525, 3572, 3655, 3774, 3869, 3952, 4272, 4320, 4367, 4450, 4546, 4593, 4664, 4712, 4830, 4919, 4990, 5144, 5215, 5570, 5605, 5819, 5913, 5972, 6185, 6316, 6410, 6469, 6540, 6600, 6682, 7018, 7049, 7108, 7168, 7227, 7322, 7440, 7653, 7807, 7901, 7949, 8055, 8103, 8209, 8339, 8493, 8682, 8754, 8836, 8895, 8967, 9049, 9239, 9333, 9369]
s_6203 = [202, 261, 356, 404, 522, 605, 795, 961, 997, 1104, 1377, 1436, 1578, 1626, 1745, 1816, 1970, 2291, 2492, 2587, 2670, 2789, 2943, 2991, 3026, 3133, 3323, 3418, 3560, 3620, 3679, 3738, 3905, 4177, 4355, 4522, 4735, 4842, 5037, 5191, 5250, 5712, 5878, 6197, 6256, 6316, 6434, 6493, 6540, 6884, 6919, 7049, 7108, 7156, 7203, 7251, 7724, 7830, 7854, 8008, 8067, 8138, 8197, 8245, 8292, 8422, 8588, 8695, 8754, 9002, 9049, 9168, 9239, 9523]
s_6202 = [59, 581, 819, 997, 1187, 1258, 1305, 1484, 1531, 1780, 2006, 2718, 2860, 2931, 3228, 3643, 4189, 4462, 4569, 4617, 5286, 5385, 5499, 5889, 5984, 6126, 6304, 6351, 6611, 6742, 6848, 7002, 7049, 7097, 7156, 7203, 7854, 8091, 8233, 8257, 8339, 8529, 8600, 8825, 8919, 8979, 9203, 9239]
s_6201 = [285, 593, 878, 1626, 1934, 2196, 2623, 2825, 3382, 3560, 3964, 4118, 5452, 5475, 6978, 7156, 8233, 8304, 8493, 8765, 9109, 9132]
s_6200 = [688, 712, 973, 1020, 2694, 2718, 3086, 3299, 3917, 4759, 4795, 4955, 5298, 5369, 5499, 5546, 5594, 6895, 7830, 9215]
s_6199 = [949, 3774, 4510, 8576, 8671, 8884, 8967, 9310]
s_6198 = [297, 356, 510, 6671, 8387]
s_6197 = [1424, 2789, 4154, 4931, 5511, 5582, 8375, 9428]
s_6196 = [1567]
s_6195 = [1982, 4847, 7262, 8245]
s_6194 = [6931]
s_6193 = [6801, 8268]

levels = [6240, 6239, 6237, 6236, 6235, 6234, 6233, 6232, 6231, 6230, 6229, 6228, 6227, 6226,
          6225, 6224, 6223, 6222, 6221, 6220, 6219, 6218, 6217, 6216, 6215, 6214, 6213, 6212,
          6211, 6210, 6209, 6208, 6207, 6206, 6205, 6204, 6203, 6202, 6201, 6200, 6199, 6198,
          6197, 6196, 6195, 6194, 6193]
rows = [s_6240, s_6239, s_6237, s_6236, s_6235, s_6234, s_6233, s_6232, s_6231, s_6230, s_6229,
        s_6228, s_6227, s_6226, s_6225, s_6224, s_6223, s_6222, s_6221, s_6220, s_6219, s_6218,
        s_6217, s_6216, s_6215, s_6214, s_6213, s_6212, s_6211, s_6210, s_6209, s_6208, s_6207,
        s_6206, s_6205, s_6204, s_6203, s_6202, s_6201, s_6200, s_6199, s_6198, s_6197, s_6196,
        s_6195, s_6194, s_6193]

samples = []
counts = []
for level, row in zip(levels, rows):
    samples += row
    counts += [level] * len(row)

fig, ax = plt.subplots(figsize=(10, 10))
ax.plot(samples, counts, "k.", label="Samples\n$\\mu$ = 6215.76, $\\sigma$ = 6.03")
ax.set_title("Pedestal:\nRun 24, Board ID E190324, CH 50, hi gain, 25Ω")
ax.set_xlabel("Sample #")
ax.set_ylabel("ADC Counts")
ax.grid(True)
ax.legend(loc="upper right")
plt.tight_layout()
fig.savefig("out.png", dpi=100)
